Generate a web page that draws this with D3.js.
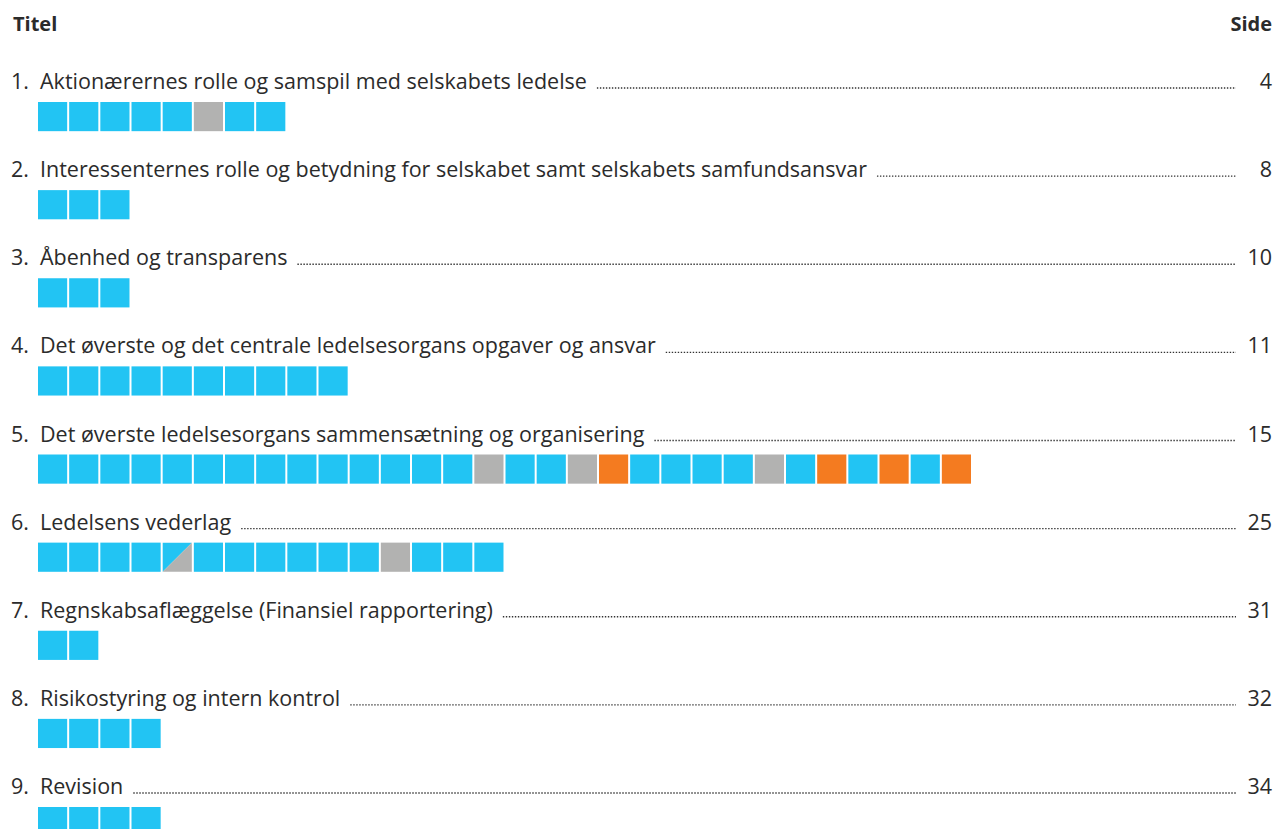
<!DOCTYPE html>
<html lang="da">
<head>
  <meta charset="UTF-8">
  <title>Indhold</title>
  <style>
    body { margin: 0; background: #fff; }
    text { font-family: "Open Sans", "Noto Sans", sans-serif; fill: #2b2b2b; }
  </style>
</head>
<body>
<script src="https://cdn.jsdelivr.net/npm/d3@7"></script>
<script>
  // afsnit i indholdsfortegnelsen
  var numbers = ['1.', '2.', '3.', '4.', '5.', '6.', '7.', '8.', '9.']
  var titles = [
    'Aktionærernes rolle og samspil med selskabets ledelse',
    'Interessenternes rolle og betydning for selskabet samt selskabets samfundsansvar',
    'Åbenhed og transparens',
    'Det øverste og det centrale ledelsesorgans opgaver og ansvar',
    'Det øverste ledelsesorgans sammensætning og organisering',
    'Ledelsens vederlag',
    'Regnskabsaflæggelse (Finansiel rapportering)',
    'Risikostyring og intern kontrol',
    'Revision'
  ]
  var pages = [4, 8, 10, 11, 15, 25, 31, 32, 34]

  // F = følger, D = delvis, I = følger ikke, H = halvt følger / halvt delvis
  var compliance = [
    ['F','F','F','F','F','D','F','F'],
    ['F','F','F'],
    ['F','F','F'],
    ['F','F','F','F','F','F','F','F','F','F'],
    ['F','F','F','F','F','F','F','F','F','F','F','F','F','F','D','F','F','D','I','F','F','F','F','D','F','I','F','I','F','I'],
    ['F','F','F','F','H','F','F','F','F','F','F','D','F','F','F'],
    ['F','F'],
    ['F','F','F','F'],
    ['F','F','F','F']
  ]
  var colors = { F: '#22c4f3', D: '#b2b2b1', I: '#f47b20' }

  var width = 1277
  var height = 829
  var fontSize = 21.5

  var svg = d3.select('body').append('svg')
    .attr('width', width)
    .attr('height', height)

  var maxSquares = d3.max(compliance, d => d.length)
  var x = d3.scaleBand()
    .domain(d3.range(maxSquares))
    .range([38, 38 + maxSquares * 31.1])
    .paddingInner(2 / 31.1)
  var y = d3.scaleLinear()
    .domain([0, titles.length - 1])
    .range([89, 794])

  // overskrift
  svg.append('text').attr('x', 13).attr('y', 31)
    .style('font-size', '20px').style('font-weight', 'bold').text('Titel')
  svg.append('text').attr('x', 1272).attr('y', 31).attr('text-anchor', 'end')
    .style('font-size', '20px').style('font-weight', 'bold').text('Side')

  var rows = svg.selectAll('g.row')
    .data(titles)
    .enter()
    .append('g')
    .attr('class', 'row')
    .attr('transform', (d, i) => `translate(0,${y(i)})`)

  rows.append('text').attr('x', 11).style('font-size', fontSize + 'px').text((d, i) => numbers[i])
  var label = rows.append('text').attr('x', 40).style('font-size', fontSize + 'px').text(d => d)
  rows.append('text').attr('x', 1272).attr('text-anchor', 'end')
    .style('font-size', fontSize + 'px').text((d, i) => pages[i])

  // prikket linje fra titel til sidetal
  label.each(function (d, i) {
    var end = 40 + this.getComputedTextLength() + 10
    d3.select(this.parentNode).append('line')
      .attr('x1', end).attr('x2', 1236)
      .attr('y1', -1).attr('y2', -1)
      .attr('stroke', '#333')
      .attr('stroke-width', 1.4)
      .attr('stroke-dasharray', '1.4,1.6')
  })

  // firkanter
  var h = x.bandwidth()
  rows.each(function (d, i) {
    var g = d3.select(this).append('g').attr('transform', 'translate(0,13)')
    var cells = compliance[i].map((s, j) => ({ s: s, j: j }))
    g.selectAll('rect')
      .data(cells.filter(o => o.s !== 'H'))
      .enter()
      .append('rect')
      .attr('x', o => x(o.j))
      .attr('y', 0)
      .attr('width', h)
      .attr('height', h)
      .attr('fill', o => colors[o.s])
    cells.filter(o => o.s === 'H').forEach(o => {
      var x0 = x(o.j), x1 = x0 + h
      g.append('path').attr('d', `M${x0},0L${x1},0L${x0},${h}Z`).attr('fill', colors.F)
      g.append('path').attr('d', `M${x1},0L${x1},${h}L${x0},${h}Z`).attr('fill', colors.D)
    })
  })
</script>
</body>
</html>
